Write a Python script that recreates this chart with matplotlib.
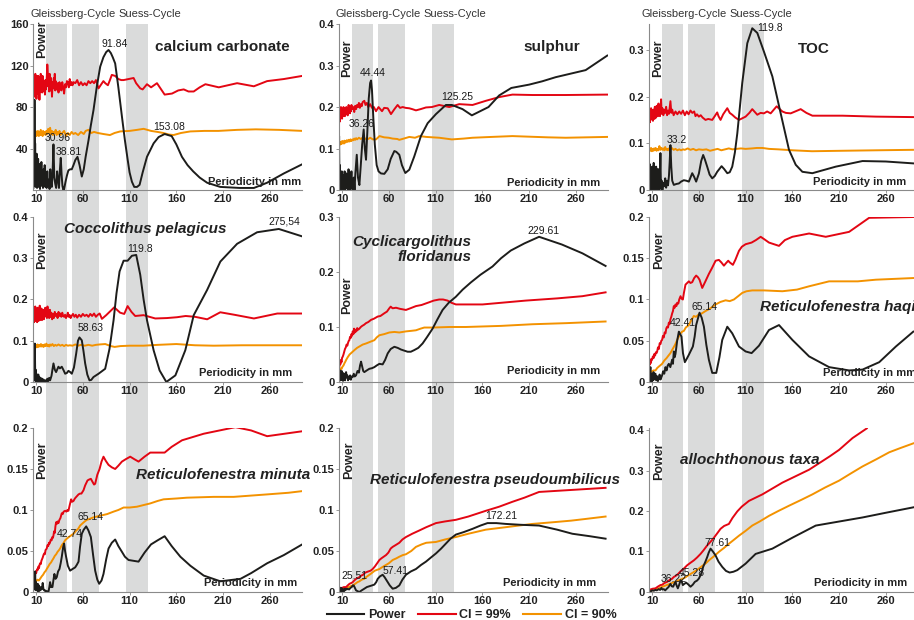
import numpy as np
import matplotlib
matplotlib.use('Agg')
import matplotlib.pyplot as plt
import matplotlib.transforms as mtransforms
from matplotlib.patches import Rectangle
from matplotlib.lines import Line2D

plt.rcParams['font.family'] = ['Liberation Sans', 'DejaVu Sans']

# ---- data: (periodicity in mm, power) ----
# calcium carbonate
cc_power = [(7.1,2),(7.6,30),(8.0,5),(8.3,87),(8.7,10),(9.0,45),(9.4,3),(9.8,28),(10.2,6),(10.6,35),(11.0,2),(11.4,20),(11.8,8),(12.2,30),(12.6,3),(13.0,18),(13.4,5),(13.8,25),(14.2,1),(14.7,22),(15.2,6),(15.7,27),(16.2,4),(16.8,15),(17.4,2),(18.0,20),(18.6,5),(19.2,24),(19.8,3),(20.5,12),(21.2,2),(22,18),(22.8,4),(23.6,10),(24.4,1),(25.2,20),(26,8),(26.8,3),(27.6,15),(28.6,44),(29.5,12),(30.5,6),(31.5,2),(32.5,18),(33.5,10),(34.5,2),(35.5,20),(36.4,31),(37.3,15),(38.2,4),(39.2,0),(40,1),(41.5,8),(43,14),(44.6,19),(46.5,20),(48.2,20),(50,24),(52,29),(54.3,32),(56.5,24),(58.9,13),(61,20),(63,32),(66.1,48),(68.5,62),(71.4,77),(75,100),(78.6,119),(82,128),(85,133),(87.5,135),(90,132),(92,128),(94.6,122),(98,99),(101.8,71),(105,48),(108,29),(110,17),(112.5,8),(115,3),(118,3),(120.7,5),(124,17),(128.6,32),(135.7,45),(141,51),(147.5,54),(155,52),(160,44),(166,32),(172,24),(178,18),(185,12),(193,7),(207,3),(228,2),(243,2),(257,7),(275,16),(295,25)]
cc_99 = [(7.1,95),(7.6,108),(8.0,90),(8.4,103),(8.8,97),(9.2,112),(9.6,92),(10,105),(10.4,88),(10.8,110),(11.2,98),(11.6,106),(12,93),(12.4,110),(12.8,96),(13.2,104),(13.6,87),(14,106),(14.5,95),(15,112),(15.5,98),(16,105),(16.5,94),(17,110),(17.5,99),(18,104),(18.5,95),(19,102),(19.5,92),(20,106),(20.5,97),(21,101),(21.5,110),(22,121),(22.5,114),(23,100),(23.5,108),(24,95),(24.5,112),(25,103),(25.5,96),(26,108),(26.5,101),(27,90),(27.5,99),(28,104),(28.5,98),(29,108),(29.5,100),(30,112),(30.5,96),(31,105),(32,97),(33,103),(34,94),(35,104),(36,99),(37,96),(38,104),(39,99),(40,93),(41,102),(42,99),(43,105),(44,104),(45,99),(46,107),(47,101),(48,104),(49,101),(50,104),(52,103),(54,106),(56,101),(58,104),(60,101),(62,103),(64,101),(66,105),(68,103),(70,105),(72,103),(74,106),(76.8,98),(79,101),(82,105),(84,103),(86.8,101),(89,106),(91,111),(94.6,110),(98,107),(101,106),(103.6,106),(109,107),(114.3,108),(117,103),(121.4,98),(124,97),(128.6,102),(133,99),(139.3,103),(147.5,92),(155.4,93),(162,96),(167.9,97),(173,95),(178.6,95),(185,99),(191.1,102),(205.4,99),(225,103),(242.9,100),(257.1,105),(275,107),(294.6,110)]
cc_90 = [(7.1,54),(7.6,57),(8,52),(8.5,56),(9,53),(9.5,57),(10,54),(10.5,52),(11,56),(11.5,53),(12,57),(12.5,54),(13,52),(13.5,56),(14,53),(14.5,55),(15,58),(15.5,53),(16,56),(16.5,54),(17,52),(17.5,57),(18,54),(19,56),(20,53),(21,57),(22,54),(23,59),(24,55),(25,60),(26,54),(27,57),(28,53),(29,56),(30,55),(31,58),(32,53),(33,56),(34,54),(35,57),(36,53),(38,55),(40,57),(42,52),(44,55),(46,53),(48,56),(50,54),(52,55),(55,53),(58,56),(61,54),(63,57),(66,58),(69,55),(72,56),(76,55),(82,54),(89,53),(94,55),(100,56.5),(110,57),(118,58),(125,59),(133,57),(140,56),(146,55),(152,53.5),(157,53),(165,55),(175,56.5),(190,57),(205,57),(225,58),(245,58.5),(270,58),(295,57)]

# sulphur
su_power = [(6.4,0.0),(6.8,0.13),(7.2,0.01),(7.7,0.06),(8.2,0.0),(8.7,0.035),(9.2,0.0),(9.7,0.045),(10.2,0.005),(10.7,0.03),(11.2,0.0),(11.7,0.035),(12.2,0.01),(12.7,0.045),(13.3,0.0),(13.9,0.025),(14.5,0.04),(15.1,0.005),(15.7,0.03),(16.3,0.0),(16.9,0.05),(17.5,0.01),(18.1,0.035),(18.7,0.0),(19.3,0.02),(20,0.045),(20.8,0.005),(21.6,0.0),(22.5,0.03),(23.3,0.0),(24.2,0.04),(25.7,0.085),(27,0.03),(28.5,0.012),(30,0.06),(31.5,0.11),(33.1,0.146),(34.3,0.1),(35.6,0.073),(37,0.14),(38.5,0.22),(40,0.258),(41,0.264),(42,0.24),(43.5,0.17),(45,0.11),(47,0.06),(49,0.045),(51.6,0.04),(55.2,0.039),(58.8,0.05),(62,0.075),(65.9,0.094),(68,0.092),(71.2,0.085),(74,0.06),(77.6,0.041),(81.9,0.049),(87.2,0.081),(94.3,0.13),(101.5,0.161),(110.4,0.183),(121,0.205),(127.4,0.205),(138.8,0.195),(148.8,0.18),(166.6,0.2),(178,0.228),(191,0.246),(210,0.254),(224,0.262),(238.5,0.272),(270.5,0.289),(293.6,0.324)]
su_99 = [(6.4,0.195),(6.8,0.17),(7.2,0.19),(7.6,0.165),(8.0,0.185),(8.4,0.175),(8.8,0.2),(9.2,0.18),(9.6,0.19),(10,0.172),(10.5,0.195),(11,0.178),(11.5,0.2),(12,0.183),(12.5,0.192),(13,0.178),(13.5,0.197),(14,0.182),(14.5,0.2),(15,0.185),(15.5,0.196),(16,0.18),(16.5,0.19),(17,0.205),(17.5,0.188),(18,0.198),(18.5,0.185),(19,0.2),(19.5,0.19),(20,0.205),(21,0.195),(22,0.2),(23,0.188),(24,0.203),(25,0.195),(26,0.205),(27,0.2),(28,0.21),(29,0.198),(30,0.207),(31,0.202),(32,0.212),(33.8,0.215),(35,0.205),(36.5,0.21),(38,0.2),(40,0.207),(42,0.198),(44,0.2),(46.3,0.19),(49,0.2),(52.7,0.19),(55,0.198),(58.8,0.197),(62.3,0.183),(66,0.195),(69.4,0.205),(72,0.198),(74.8,0.2),(78,0.198),(81.9,0.197),(85,0.195),(89,0.192),(94,0.195),(99.7,0.199),(106,0.2),(113.9,0.205),(124.6,0.2),(135.3,0.207),(149.5,0.205),(163.7,0.215),(178,0.224),(192.2,0.23),(213.6,0.229),(249.1,0.229),(293.6,0.23)]
su_90 = [(6.4,0.112),(7,0.108),(7.5,0.115),(8,0.11),(8.5,0.116),(9,0.111),(9.5,0.117),(10,0.112),(10.5,0.118),(11,0.113),(11.5,0.116),(12,0.112),(12.5,0.119),(13,0.114),(13.5,0.118),(14,0.115),(15,0.12),(16,0.116),(17,0.121),(18,0.117),(19,0.122),(20,0.118),(21,0.122),(22,0.12),(23,0.124),(24,0.121),(25,0.125),(26,0.122),(28,0.126),(30,0.123),(32,0.126),(34,0.122),(36,0.125),(38,0.123),(40,0.126),(43,0.122),(46.3,0.122),(50,0.13),(55,0.127),(60,0.126),(64,0.124),(69,0.123),(71.2,0.121),(76,0.124),(81.9,0.128),(88,0.126),(92.5,0.13),(100,0.128),(113.9,0.126),(127.4,0.122),(140,0.124),(149.5,0.126),(170,0.128),(192.2,0.13),(230,0.127),(249.1,0.126),(293.6,0.128)]

# TOC
toc_power = [(5.7,0.0),(6.1,0.065),(6.5,0.005),(6.9,0.04),(7.3,0.0),(7.7,0.055),(8.1,0.01),(8.5,0.045),(8.9,0.0),(9.3,0.03),(9.7,0.005),(10.1,0.05),(10.5,0.0),(10.9,0.035),(11.3,0.01),(11.7,0.058),(12.1,0.0),(12.5,0.04),(12.9,0.005),(13.3,0.03),(13.8,0.0),(14.3,0.05),(14.8,0.008),(15.3,0.025),(15.8,0.0),(16.3,0.045),(16.8,0.01),(17.3,0.02),(17.8,0.0),(18.4,0.035),(18.9,0.079),(19.5,0.005),(20.2,0.02),(21,0.0),(22,0.015),(23,0.008),(24,0.025),(25,0.005),(26,0.02),(27,0.01),(28,0.03),(28.8,0.06),(29.6,0.096),(30.5,0.05),(31.5,0.02),(33.2,0.011),(36,0.013),(38.6,0.014),(41,0.018),(43.9,0.021),(46.5,0.02),(49.3,0.018),(52.9,0.036),(55,0.028),(57.1,0.018),(60,0.035),(62.5,0.062),(64.6,0.075),(66.5,0.065),(68.9,0.05),(71.5,0.033),(74.3,0.025),(77,0.03),(79.6,0.039),(84.3,0.051),(87,0.045),(90.4,0.036),(93,0.038),(95.7,0.05),(98.5,0.08),(101.1,0.121),(106.4,0.229),(111.8,0.314),(117.1,0.346),(122.5,0.336),(129.6,0.296),(138.6,0.243),(147.5,0.164),(156.4,0.086),(163.6,0.054),(170.7,0.039),(181.4,0.036),(206.4,0.05),(235,0.062),(260,0.061),(289.3,0.057)]
toc_99 = [(5.7,0.193),(6.1,0.16),(6.5,0.175),(6.9,0.148),(7.3,0.17),(7.7,0.145),(8.1,0.168),(8.5,0.152),(8.9,0.175),(9.3,0.155),(9.7,0.17),(10.1,0.15),(10.5,0.165),(10.9,0.148),(11.3,0.172),(11.7,0.155),(12.1,0.168),(12.5,0.152),(12.9,0.178),(13.3,0.158),(13.8,0.17),(14.3,0.155),(14.8,0.18),(15.3,0.16),(15.8,0.175),(16.3,0.158),(16.8,0.185),(17.3,0.162),(17.8,0.17),(18.4,0.158),(19.0,0.175),(19.6,0.194),(20.2,0.163),(21,0.175),(22,0.16),(23,0.172),(24,0.165),(25,0.178),(26,0.16),(27,0.17),(28,0.163),(29.6,0.19),(30.5,0.165),(31.5,0.172),(33,0.16),(35,0.168),(37,0.162),(39,0.168),(41,0.163),(43,0.17),(45,0.16),(47,0.168),(49,0.162),(51,0.17),(53,0.165),(55,0.168),(56.4,0.158),(58,0.162),(60,0.157),(62,0.16),(64,0.155),(67.1,0.15),(70,0.152),(74.3,0.15),(77,0.158),(79.6,0.166),(81,0.158),(83.2,0.15),(86,0.162),(90.4,0.175),(93,0.165),(95.7,0.161),(99,0.155),(102.9,0.15),(106,0.153),(110,0.157),(114,0.165),(117.1,0.173),(122.5,0.161),(126,0.165),(129.6,0.164),(133,0.168),(136.8,0.164),(143.2,0.179),(149.3,0.168),(153,0.165),(158.2,0.164),(163,0.168),(168.9,0.173),(175,0.165),(181.4,0.159),(213.6,0.159),(249.3,0.157),(289.3,0.156)]
toc_90 = [(5.7,0.087),(6.5,0.082),(7.3,0.089),(8.1,0.084),(8.9,0.09),(9.7,0.083),(10.5,0.088),(11.3,0.084),(12.1,0.089),(12.9,0.085),(13.8,0.09),(14.8,0.084),(15.8,0.088),(16.8,0.085),(17.8,0.094),(18.9,0.086),(20,0.09),(21,0.086),(22,0.089),(23,0.085),(24,0.092),(25,0.086),(26,0.088),(27,0.085),(28,0.089),(29.6,0.087),(31,0.09),(33,0.086),(35,0.088),(37,0.085),(39,0.087),(41,0.085),(43,0.087),(45,0.086),(48,0.089),(51,0.086),(54,0.088),(57,0.085),(60,0.087),(64,0.086),(68,0.087),(72,0.084),(76,0.086),(80,0.088),(84,0.085),(88,0.087),(92,0.089),(96,0.087),(100,0.088),(105,0.089),(110,0.088),(117,0.089),(122,0.09),(128,0.09),(135,0.088),(145,0.087),(160,0.085),(181,0.083),(214,0.084),(250,0.085),(289,0.086)]

# Coccolithus pelagicus
cp_power = [(7.1,0.0),(7.5,0.05),(7.9,0.005),(8.3,0.02),(8.7,0.093),(9.1,0.01),(9.5,0.03),(9.9,0.0),(10.3,0.02),(10.8,0.005),(11.3,0.015),(11.8,0.0),(12.4,0.018),(13,0.004),(13.6,0.012),(14.2,0.0),(14.9,0.01),(15.6,0.002),(16.4,0.008),(17.2,0.0),(18,0.006),(19,0.0),(20,0.004),(21,0.0),(22,0.008),(23,0.002),(24,0.01),(25,0.004),(26.5,0.015),(27.5,0.03),(28.6,0.045),(30,0.03),(31.4,0.024),(33.9,0.037),(35.5,0.033),(37.5,0.037),(39.5,0.028),(41.1,0.02),(43,0.022),(44.6,0.027),(46.5,0.024),(48.2,0.02),(50.5,0.035),(52.9,0.069),(54.8,0.1),(56.4,0.108),(58.9,0.101),(60.7,0.075),(62.5,0.045),(64.8,0.018),(67.1,0.004),(69,0.005),(71.4,0.012),(76.8,0.02),(83.9,0.032),(88.5,0.08),(92.9,0.15),(96,0.215),(99.3,0.268),(103.6,0.294),(107.9,0.294),(112.5,0.306),(117.1,0.308),(121.4,0.26),(125,0.2),(128.6,0.15),(135.7,0.077),(142.1,0.028),(149.3,0.0),(159,0.016),(169.6,0.077),(178.6,0.162),(192.9,0.223),(207.1,0.292),(225,0.335),(246.4,0.363),(269.6,0.371),(294.6,0.353)]
cp_99 = [(7.1,0.15),(7.5,0.178),(7.9,0.145),(8.3,0.17),(8.7,0.155),(9.1,0.183),(9.5,0.148),(9.9,0.172),(10.3,0.15),(10.7,0.168),(11.1,0.145),(11.5,0.18),(11.9,0.152),(12.3,0.175),(12.7,0.148),(13.1,0.17),(13.5,0.155),(13.9,0.185),(14.3,0.15),(14.8,0.17),(15.3,0.155),(15.8,0.178),(16.3,0.15),(16.8,0.168),(17.3,0.158),(17.8,0.175),(18.3,0.152),(18.8,0.17),(19.3,0.158),(19.8,0.18),(20.4,0.16),(21,0.178),(21.6,0.155),(22.2,0.183),(22.8,0.16),(23.4,0.17),(24,0.155),(24.8,0.175),(25.6,0.158),(26.4,0.168),(27.2,0.152),(28,0.165),(29,0.155),(30,0.17),(31,0.16),(32,0.165),(33,0.155),(34,0.17),(35,0.16),(36,0.166),(37,0.158),(38,0.168),(39,0.16),(40,0.158),(41,0.163),(42,0.155),(43,0.16),(44,0.168),(45,0.158),(46,0.162),(47,0.155),(48,0.16),(49.5,0.165),(51,0.158),(52.5,0.163),(54,0.156),(56,0.163),(58,0.158),(60,0.165),(62,0.16),(64,0.163),(66,0.158),(68,0.165),(70,0.16),(72,0.166),(74,0.158),(76,0.163),(78,0.166),(80.4,0.153),(85,0.162),(93.6,0.181),(99.9,0.168),(104.3,0.165),(107.9,0.184),(112,0.17),(116,0.16),(125,0.162),(137.5,0.154),(150,0.155),(160.7,0.157),(170,0.16),(180,0.158),(193,0.152),(207,0.169),(222,0.163),(243,0.154),(268,0.166),(294.6,0.166)]
cp_90 = [(7.1,0.085),(8,0.09),(8.9,0.083),(9.8,0.09),(10.7,0.084),(11.6,0.091),(12.5,0.085),(13.4,0.09),(14.3,0.086),(15.2,0.092),(16.1,0.086),(17,0.09),(18,0.085),(19,0.091),(20,0.087),(21,0.093),(22,0.087),(23,0.09),(24,0.086),(25,0.091),(26,0.088),(27.5,0.092),(29,0.087),(30.5,0.09),(32,0.088),(34,0.091),(36,0.088),(38,0.09),(40,0.087),(42,0.09),(44,0.088),(46,0.089),(49,0.088),(52,0.091),(55,0.088),(58,0.09),(62,0.088),(66,0.09),(70,0.088),(74,0.09),(78,0.091),(84,0.092),(90,0.087),(94,0.085),(100,0.087),(110,0.088),(125,0.088),(140,0.09),(160,0.092),(180,0.089),(200,0.088),(230,0.089),(260,0.089),(294.6,0.089)]

# Cyclicargolithus floridanus
cf_power = [(6.4,0.027),(6.8,0.005),(7.2,0.022),(7.6,0.008),(8,0.018),(8.4,0.003),(8.8,0.015),(9.2,0.005),(9.6,0.02),(10,0.004),(10.5,0.012),(11,0.002),(11.5,0.016),(12,0.006),(12.6,0.01),(13.2,0.003),(13.8,0.014),(14.3,0.018),(15,0.008),(15.7,0.012),(16.4,0.003),(17.1,0.009),(17.8,0.006),(18.6,0.012),(19.4,0.004),(20.3,0.01),(21.4,0.009),(22.5,0.015),(23.5,0.01),(24.9,0.012),(26.5,0.02),(28,0.017),(29.2,0.03),(30.3,0.037),(31.5,0.028),(32.6,0.02),(33.8,0.018),(35.5,0.02),(37.3,0.022),(39.2,0.024),(41.8,0.025),(44.5,0.027),(47,0.03),(49.9,0.033),(53.4,0.032),(56,0.04),(58.8,0.052),(62,0.06),(65.9,0.064),(69.5,0.062),(73,0.059),(76.5,0.057),(80.1,0.055),(83.5,0.055),(87.2,0.058),(91.5,0.062),(96.1,0.07),(101,0.082),(106.8,0.097),(112,0.114),(117.5,0.131),(124,0.144),(131.7,0.155),(139,0.168),(147.7,0.181),(158,0.195),(170.9,0.21),(180,0.225),(190.4,0.239),(205,0.252),(220.7,0.264),(245,0.25),(267,0.234),(291.8,0.211)]
cf_99 = [(6.4,0.033),(7,0.028),(7.6,0.036),(8.2,0.032),(8.8,0.04),(9.4,0.036),(10,0.044),(10.7,0.046),(11.5,0.05),(12.3,0.055),(13.1,0.06),(14,0.063),(14.8,0.068),(15.6,0.066),(16.5,0.072),(17.2,0.075),(17.8,0.076),(18.5,0.082),(19.2,0.08),(20,0.087),(20.7,0.084),(21.4,0.092),(22.1,0.087),(22.8,0.097),(23.6,0.09),(24.4,0.095),(25.3,0.092),(26.2,0.098),(27.2,0.095),(28.5,0.097),(30,0.1),(31.5,0.102),(33.5,0.104),(35.6,0.107),(38,0.109),(41,0.113),(44,0.115),(48.1,0.119),(51,0.12),(55.2,0.125),(58,0.128),(60.5,0.134),(62,0.137),(64,0.134),(67.7,0.135),(72,0.133),(78.3,0.131),(83,0.134),(89,0.138),(95,0.14),(103.2,0.145),(108,0.148),(113.9,0.15),(118,0.15),(122.8,0.148),(127,0.144),(131.7,0.141),(160.2,0.141),(206.4,0.148),(240,0.152),(267,0.156),(291.8,0.163)]
cf_90 = [(6.4,0.021),(7.5,0.02),(8.5,0.025),(9.5,0.024),(10.5,0.028),(11.5,0.03),(12.5,0.034),(13.5,0.037),(14.3,0.04),(16,0.045),(18,0.05),(20,0.053),(23.2,0.058),(26,0.062),(29,0.065),(32,0.068),(35.6,0.07),(40,0.073),(44.5,0.076),(47,0.081),(49.9,0.085),(55,0.087),(60.5,0.09),(66,0.091),(71.2,0.09),(78.3,0.092),(84,0.093),(89,0.094),(94,0.097),(97.9,0.099),(106.8,0.099),(125,0.1),(142.4,0.1),(180,0.102),(213.6,0.105),(250,0.107),(291.8,0.11)]

# Reticulofenestra haqi
rh_power = [(5.7,0.005),(6.1,0.022),(6.5,0.004),(6.9,0.015),(7.3,0.0),(7.7,0.012),(8.2,0.018),(8.7,0.003),(9.2,0.01),(9.7,0.0),(10.3,0.008),(10.9,0.002),(11.5,0.012),(12.1,0.003),(12.8,0.009),(13.6,0.01),(14.4,0.002),(15.3,0.007),(16.2,0.001),(17.1,0.004),(18,0.009),(19,0.003),(20,0.006),(20.7,0.008),(21.8,0.013),(23,0.01),(24.3,0.018),(25.5,0.014),(26.7,0.02),(27.9,0.022),(29.5,0.018),(31.4,0.027),(32.3,0.022),(33.2,0.037),(34.1,0.03),(35,0.034),(36.8,0.05),(38.6,0.061),(40,0.058),(41.4,0.055),(43,0.035),(45,0.024),(47,0.028),(49.3,0.033),(53.6,0.043),(55.5,0.055),(57.1,0.069),(60.7,0.084),(63,0.078),(65.4,0.067),(68,0.045),(70.7,0.027),(74.3,0.011),(78.6,0.011),(82,0.03),(85,0.051),(90.4,0.067),(95.7,0.059),(102.9,0.043),(110,0.037),(116.4,0.035),(124.3,0.044),(135,0.063),(145.7,0.069),(160,0.051),(177.9,0.031),(199.3,0.018),(220.7,0.014),(235,0.015),(252.9,0.024),(270.7,0.043),(289.3,0.061)]
rh_99 = [(5.7,0.02),(6.3,0.018),(6.9,0.024),(7.5,0.021),(8.1,0.027),(8.7,0.023),(9.3,0.028),(10,0.027),(10.8,0.031),(11.6,0.029),(12.4,0.034),(13.2,0.032),(14,0.036),(14.7,0.035),(15.4,0.037),(16.3,0.042),(17.2,0.04),(18.1,0.047),(19,0.046),(19.8,0.05),(20.7,0.051),(21.6,0.056),(22.5,0.054),(23.4,0.06),(24.3,0.059),(25.2,0.065),(26.1,0.067),(27,0.066),(27.9,0.072),(28.7,0.07),(29.6,0.076),(30.5,0.079),(31.4,0.083),(32.3,0.086),(33.2,0.092),(34.1,0.09),(35,0.094),(36,0.092),(36.8,0.096),(38,0.095),(39,0.1),(40.4,0.104),(41.5,0.101),(42.9,0.1),(44,0.108),(45.7,0.118),(47.5,0.12),(49.3,0.122),(51,0.12),(52.9,0.121),(55,0.126),(57.1,0.129),(59,0.127),(60.7,0.124),(63.6,0.114),(67,0.122),(70.7,0.131),(74,0.138),(77.9,0.147),(81.4,0.148),(84,0.145),(86.8,0.141),(89,0.144),(91.4,0.147),(93,0.145),(96.4,0.142),(99,0.148),(102.9,0.159),(106,0.164),(110,0.167),(116.4,0.169),(121,0.172),(126.1,0.176),(130,0.173),(135,0.169),(145.7,0.165),(152,0.172),(160,0.176),(177.9,0.18),(195.7,0.176),(220.7,0.182),(242.1,0.199),(289.3,0.2)]
rh_90 = [(5.7,0.01),(7,0.011),(8.5,0.012),(10,0.013),(11.5,0.014),(13.6,0.014),(15.5,0.017),(17.5,0.019),(20.7,0.022),(23,0.026),(25.5,0.029),(27.5,0.032),(29.6,0.035),(32,0.04),(34.5,0.045),(36.8,0.051),(39,0.056),(40.5,0.059),(42.1,0.061),(44,0.062),(46,0.066),(49.3,0.069),(52,0.075),(54.6,0.08),(57,0.079),(60,0.082),(63,0.083),(67.1,0.086),(72,0.089),(77.9,0.094),(83,0.097),(88.6,0.099),(93,0.098),(97.5,0.1),(102,0.104),(106.4,0.108),(111,0.11),(117.1,0.111),(130,0.111),(149.3,0.11),(165,0.112),(177.9,0.116),(199.3,0.122),(230,0.122),(249.3,0.124),(289.3,0.126)]

# Reticulofenestra minuta
rm_power = [(7.1,0.008),(7.5,0.02),(7.9,0.004),(8.2,0.014),(8.6,0.003),(9,0.025),(9.4,0.006),(9.8,0.012),(10.2,0.002),(10.7,0.01),(11.2,0.004),(11.8,0.01),(12.4,0.0),(13,0.008),(13.6,0.002),(14.3,0.002),(15,0.006),(15.8,0.003),(16.5,0.006),(17.1,0.011),(17.8,0.004),(18.6,0.002),(19.6,0.002),(20.5,0.0),(21.5,0.001),(22.3,0.0),(23.2,0.0),(24.2,0.006),(25,0.012),(26,0.006),(27.5,0.006),(28.5,0.014),(29.6,0.022),(30.8,0.016),(32.1,0.018),(33.5,0.025),(35,0.028),(36.3,0.035),(37.5,0.043),(39,0.055),(40,0.059),(41,0.05),(42.1,0.043),(44,0.032),(46.4,0.026),(49,0.028),(51.8,0.03),(53.5,0.033),(55.4,0.037),(57,0.055),(58.9,0.071),(61,0.076),(63.6,0.08),(66,0.075),(68.6,0.067),(71,0.045),(73.2,0.026),(75.5,0.015),(77.5,0.01),(80,0.014),(82.1,0.022),(85,0.04),(87.5,0.053),(91,0.06),(94.6,0.064),(98,0.056),(101.8,0.049),(105,0.043),(108.9,0.039),(119.6,0.037),(126,0.048),(132.9,0.058),(140,0.063),(147.5,0.068),(155,0.056),(164.3,0.043),(175,0.032),(189.3,0.02),(207.1,0.013),(228.6,0.016),(240,0.023),(257.1,0.035),(275,0.045),(294.6,0.058)]
rm_99 = [(7.1,0.02),(7.7,0.018),(8.3,0.023),(8.9,0.021),(9.5,0.025),(10.1,0.023),(10.7,0.026),(11.3,0.028),(11.9,0.027),(12.5,0.031),(13.1,0.029),(13.7,0.033),(14.3,0.035),(15,0.034),(15.7,0.038),(16.4,0.04),(17.1,0.042),(17.9,0.045),(18.7,0.047),(19.4,0.046),(20.1,0.051),(20.8,0.052),(21.4,0.053),(22.2,0.057),(23,0.056),(23.8,0.06),(24.4,0.059),(25,0.061),(25.8,0.064),(26.6,0.063),(27.4,0.067),(28,0.066),(28.6,0.069),(29.3,0.074),(30,0.072),(30.7,0.08),(31.4,0.085),(32.2,0.083),(33,0.086),(33.9,0.084),(35,0.088),(36,0.09),(37.5,0.096),(38.5,0.095),(39.5,0.098),(41.1,0.099),(42.5,0.098),(43.5,0.1),(44.6,0.099),(46,0.106),(47.5,0.113),(48.5,0.11),(50,0.111),(51.5,0.114),(53,0.116),(55.4,0.119),(57,0.12),(58.5,0.12),(60.7,0.124),(62.5,0.13),(65,0.136),(66.5,0.137),(68.6,0.138),(70.5,0.134),(72,0.131),(73.2,0.132),(75.5,0.143),(77.9,0.15),(80,0.159),(82.1,0.165),(84.5,0.16),(87.5,0.155),(91,0.152),(94.6,0.15),(98,0.154),(101.8,0.159),(106,0.162),(110.7,0.165),(115,0.162),(119.6,0.159),(126,0.165),(132.1,0.17),(140,0.17),(147.5,0.17),(155,0.177),(166.1,0.185),(189.3,0.193),(223.2,0.201),(240,0.197),(257.1,0.19),(294.6,0.196)]
rm_90 = [(7.1,0.011),(8.5,0.012),(10,0.013),(11.5,0.015),(13,0.014),(14.3,0.016),(16,0.019),(17.5,0.021),(19,0.024),(20.5,0.026),(21.4,0.028),(23,0.031),(24.5,0.034),(26,0.036),(27.5,0.039),(28.6,0.041),(30,0.044),(31.5,0.046),(33,0.049),(34.5,0.051),(35.7,0.053),(37.5,0.057),(39.5,0.06),(41,0.063),(42.9,0.065),(45,0.067),(47.5,0.069),(50,0.071),(53,0.075),(55,0.077),(57.1,0.081),(60,0.084),(62,0.086),(64.3,0.088),(67,0.089),(71.4,0.091),(78.6,0.093),(86,0.095),(92.9,0.098),(98,0.1),(103.6,0.103),(110,0.103),(117.9,0.104),(125,0.106),(132.1,0.108),(140,0.111),(146.4,0.113),(160,0.114),(171.4,0.115),(200,0.116),(221.4,0.116),(257.1,0.119),(280,0.121),(294.6,0.123)]

# Reticulofenestra pseudoumbilicus
rp_power = [(6.4,0.002),(7,0.006),(7.6,0.001),(8.2,0.004),(8.8,0.0),(9.4,0.005),(10,0.001),(10.7,0.003),(11.5,0.0),(12.3,0.004),(13.2,0.002),(14,0.004),(15,0.003),(16,0.004),(17.5,0.003),(19,0.005),(20.3,0.006),(21.4,0.008),(22.5,0.008),(23.7,0.005),(24.9,0.002),(26.5,0.001),(28.5,0.0),(31,0.002),(33.8,0.004),(36.5,0.006),(39.2,0.007),(42,0.008),(44.5,0.009),(46.5,0.012),(48.1,0.016),(50.5,0.019),(53.4,0.021),(55.5,0.018),(57.7,0.014),(61,0.008),(64.1,0.004),(67.5,0.005),(71.2,0.008),(74.5,0.015),(78.3,0.021),(83.5,0.025),(89,0.028),(94.5,0.033),(99.7,0.037),(105,0.042),(110.4,0.047),(116,0.053),(121,0.059),(126,0.065),(131.7,0.07),(140,0.073),(149.5,0.077),(158,0.081),(165.5,0.084),(175,0.084),(185.1,0.083),(200,0.082),(220.7,0.081),(240,0.076),(256.3,0.071),(275,0.068),(291.8,0.065)]
rp_99 = [(6.4,0.004),(8,0.005),(10,0.005),(12,0.006),(14.3,0.006),(16,0.008),(18,0.01),(20,0.011),(21.4,0.012),(23,0.014),(25,0.016),(26.5,0.017),(28.5,0.018),(30.5,0.02),(32.5,0.021),(34,0.023),(35.6,0.024),(38,0.025),(40.5,0.026),(42.7,0.028),(45,0.031),(47.5,0.035),(49.9,0.039),(52,0.041),(54.5,0.043),(57,0.045),(59.5,0.048),(62,0.053),(64.1,0.055),(67,0.057),(71.2,0.06),(74.5,0.064),(78.3,0.067),(85,0.071),(92.6,0.075),(100,0.079),(110.4,0.084),(120,0.086),(131.7,0.088),(145,0.092),(163.7,0.099),(178,0.104),(192.2,0.11),(205,0.115),(220.7,0.122),(249.1,0.124),(291.8,0.127)]
rp_90 = [(6.4,0.002),(8,0.002),(10,0.003),(12,0.004),(14.3,0.005),(17,0.006),(19,0.007),(21.4,0.008),(24,0.01),(26.5,0.012),(28.5,0.013),(31,0.015),(33.5,0.016),(35.6,0.018),(38,0.02),(40.5,0.022),(42.7,0.024),(45,0.026),(49.9,0.028),(54,0.031),(57,0.033),(60,0.035),(64.1,0.039),(68,0.041),(71.2,0.043),(75,0.045),(78.3,0.046),(84,0.05),(89,0.055),(95,0.058),(100,0.06),(110.4,0.061),(120,0.064),(131.7,0.067),(145,0.071),(163.7,0.076),(185,0.079),(199,0.081),(213.6,0.083),(235,0.085),(255,0.087),(270,0.089),(291.8,0.092)]

# allochthonous taxa
at_power = [(5.7,0.001),(7,0.003),(8.5,0.001),(10,0.004),(11.8,0.003),(13.5,0.005),(15,0.004),(17.1,0.007),(18.5,0.005),(20,0.01),(21,0.006),(22.5,0.007),(24,0.004),(26.1,0.009),(27.5,0.012),(29.6,0.02),(31,0.014),(32.5,0.013),(33.8,0.02),(35,0.025),(36.2,0.016),(37.5,0.009),(39,0.018),(40.4,0.029),(41.5,0.027),(42.9,0.017),(44.5,0.02),(46.4,0.023),(48.5,0.019),(51.1,0.013),(53.5,0.018),(55.7,0.025),(58,0.028),(60,0.033),(62.5,0.045),(64.6,0.062),(67,0.075),(68.9,0.086),(70.5,0.097),(72.5,0.107),(75,0.1),(77.9,0.09),(81,0.075),(85,0.062),(89,0.052),(92.9,0.048),(97,0.05),(101.1,0.054),(110,0.07),(120.7,0.094),(138.6,0.107),(160,0.134),(185,0.164),(210,0.174),(235,0.184),(260.7,0.196),(289.3,0.209)]
at_99 = [(5.7,0.005),(8,0.006),(10.5,0.008),(13.6,0.009),(16,0.013),(18.9,0.017),(21,0.018),(23,0.022),(26.1,0.025),(29,0.03),(31,0.032),(33.2,0.037),(36,0.041),(38,0.045),(40.4,0.051),(42,0.054),(44,0.058),(47.5,0.066),(51,0.072),(54.6,0.078),(58,0.085),(61.8,0.094),(65,0.103),(68.9,0.115),(72.5,0.124),(76.1,0.134),(80,0.146),(83.2,0.156),(87,0.163),(92.1,0.168),(96,0.183),(101.1,0.199),(106,0.211),(113.6,0.225),(127.9,0.241),(149.3,0.27),(177.9,0.302),(200,0.335),(210,0.351),(224.3,0.38),(239.6,0.404)]
at_90 = [(5.7,0.003),(10,0.004),(13.5,0.006),(17.1,0.009),(21,0.013),(24.5,0.016),(27.9,0.019),(31,0.022),(34.5,0.025),(38.6,0.029),(42,0.032),(45.5,0.036),(49.3,0.042),(53,0.047),(56.5,0.052),(60,0.058),(64,0.065),(67.5,0.071),(70.7,0.078),(76,0.088),(81.4,0.099),(87,0.109),(92.1,0.119),(97,0.128),(102.9,0.139),(110,0.151),(117.1,0.164),(125,0.174),(135,0.188),(145,0.2),(156.4,0.213),(170,0.228),(181.4,0.241),(195,0.258),(210,0.275),(222,0.292),(235,0.31),(250,0.328),(263.6,0.345),(275,0.355),(289.3,0.367)]

# cycle bands (mm) and x ticks
gleissberg_bands = [(20.3, 43.0), (48.0, 77.0)]
suess_band = (106.5, 129.5)
x_ticks = [10, 60, 110, 160, 210, 260]

# ---- layout ----
BLACK = '#1d1d1b'
RED = '#e30613'
ORANGE = '#f39200'
BAND = '#dadbdb'
TXT = '#222222'

fig = plt.figure(figsize=(9.14, 6.2), dpi=100)
col_left = [0.0364, 0.3712, 0.7104]
col_w = 0.2936
row_bottom = [0.6935, 0.3839, 0.0452]
row_h = [0.2677, 0.2661, 0.2645]

panels = [
    dict(data=(cc_power, cc_99, cc_90), ylim=160, yt=[40, 80, 120, 160], ytl=['40', '80', '120', '160'],
         title='calcium carbonate', tpos=(0.454, 0.861), tstyle='normal', tha='left',
         peaks=[('91.84', 94.3, 141), ('30.96', 32.9, 50), ('38.81', 44.6, 37), ('153.08', 151.8, 61)],
         power=(0.032, 1.02), per=(0.998, 0.048)),
    dict(data=(su_power, su_99, su_90), ylim=0.4, yt=[0, 0.1, 0.2, 0.3, 0.4], ytl=['0', '0.1', '0.2', '0.3', '0.4'],
         title='sulphur', tpos=(0.685, 0.861), tstyle='normal', tha='left',
         peaks=[('44.44', 42.7, 0.283), ('36.26', 31.4, 0.159), ('125.25', 133.5, 0.224)],
         power=(0.029, 0.905), per=(0.972, 0.044)),
    dict(data=(toc_power, toc_99, toc_90), ylim=0.355, yt=[0, 0.1, 0.2, 0.3], ytl=['0', '0.1', '0.2', '0.3'],
         title='TOC', tpos=(0.554, 0.849), tstyle='normal', tha='left',
         peaks=[('119.8', 135.7, 0.346), ('33.2', 36.8, 0.107)],
         power=(0.034, 0.905), per=(0.959, 0.05)),
    dict(data=(cp_power, cp_99, cp_90), ylim=0.4, yt=[0, 0.1, 0.2, 0.3, 0.4], ytl=['0', '0.1', '0.2', '0.3', '0.4'],
         title='Coccolithus pelagicus', tpos=(0.114, 0.927), tstyle='italic', tha='left',
         peaks=[('119.8', 120.7, 0.322), ('58.63', 68.6, 0.132), ('275,54', 275, 0.39)],
         power=(0.034, 0.911), per=(0.964, 0.055)),
    dict(data=(cf_power, cf_99, cf_90), ylim=0.3, yt=[0, 0.1, 0.2, 0.3], ytl=['0', '0.1', '0.2', '0.3'],
         title='Cyclicargolithus\nfloridanus', tpos=(0.491, 0.803), tstyle='italic', tha='right',
         peaks=[('229.61', 225, 0.274)],
         power=(0.029, 0.642), per=(0.972, 0.068)),
    dict(data=(rh_power, rh_99, rh_90), ylim=0.2, yt=[0, 0.05, 0.1, 0.15, 0.2], ytl=['0', '0.05', '0.1', '0.15', '0.2'],
         title='Reticulofenestra haqi', tpos=(0.413, 0.455), tstyle='italic', tha='left',
         peaks=[('65.14', 66.4, 0.091), ('42.41', 42.9, 0.071)],
         power=(0.036, 0.911), per=(0.647, 0.056), per_ha='left'),
    dict(data=(rm_power, rm_99, rm_90), ylim=0.2, yt=[0, 0.05, 0.1, 0.15, 0.2], ytl=['0', '0.05', '0.1', '0.15', '0.2'],
         title='Reticulofenestra minuta', tpos=(0.383, 0.713), tstyle='italic', tha='left',
         peaks=[('65.14', 68.6, 0.092), ('42.74', 45.7, 0.071)],
         power=(0.034, 0.916), per=(0.985, 0.057)),
    dict(data=(rp_power, rp_99, rp_90), ylim=0.2, yt=[0, 0.05, 0.1, 0.15, 0.2], ytl=['0', '0.05', '0.1', '0.15', '0.2'],
         title='Reticulofenestra pseudoumbilicus', tpos=(0.114, 0.683), tstyle='italic', tha='left',
         peaks=[('172.21', 179.8, 0.093), ('25.51', 23.2, 0.02), ('57.41', 67.7, 0.026)],
         power=(0.036, 0.92), per=(0.959, 0.057)),
    dict(data=(at_power, at_99, at_90), ylim=0.405, yt=[0, 0.1, 0.2, 0.3, 0.4], ytl=['0', '0.1', '0.2', '0.3', '0.4'],
         title='allochthonous taxa', tpos=(0.114, 0.805), tstyle='italic', tha='left',
         peaks=[('77.61', 79.6, 0.121), ('45.28', 52.9, 0.048), ('36.22', 33.2, 0.032)],
         power=(0.036, 0.91), per=(0.963, 0.057)),
]

axes = []
for i, p in enumerate(panels):
    r, c = divmod(i, 3)
    ax = fig.add_axes([col_left[c], row_bottom[r], col_w, row_h[r]])
    ax.set_facecolor('none')
    axes.append(ax)
    power, ci99, ci90 = (np.array(s).T for s in p['data'])
    ax.plot(ci90[0], ci90[1], color=ORANGE, lw=1.4, zorder=2)
    ax.plot(ci99[0], ci99[1], color=RED, lw=1.4, zorder=2.2)
    ax.plot(power[0], power[1], color=BLACK, lw=1.4, zorder=2.5)
    ax.set_xlim(7, 294)
    ax.set_ylim(0, p['ylim'])
    ax.set_xticks(x_ticks, [str(t) for t in x_ticks], fontweight='bold')
    ax.set_yticks(p['yt'], p['ytl'], fontweight='bold')
    ax.tick_params(axis='both', labelsize=8, length=2, width=0.6, color='#888888', labelcolor=TXT)
    ax.tick_params(axis='x', pad=0.8)
    ax.tick_params(axis='y', pad=1.5)
    for s in ('top', 'right'):
        ax.spines[s].set_visible(False)
    for s in ('left', 'bottom'):
        ax.spines[s].set_color('#8a8a8a')
        ax.spines[s].set_linewidth(0.8)

    ax.text(p['tpos'][0], p['tpos'][1], p['title'], transform=ax.transAxes, ha=p['tha'], va='center',
            multialignment=p['tha'], fontsize=11, fontweight='bold', fontstyle=p['tstyle'],
            color=TXT, linespacing=1.05, zorder=4)
    for lbl, px, py in p['peaks']:
        ax.text(px, py, lbl, ha='center', va='center', fontsize=7.5, color='#1a1a1a', zorder=4)
    ax.text(p['power'][0], p['power'][1], 'Power', transform=ax.transAxes, rotation=90, ha='center',
            va='top', fontsize=9, fontweight='bold', color=TXT, zorder=4)
    ax.text(p['per'][0], p['per'][1], 'Periodicity in mm', transform=ax.transAxes,
            ha=p.get('per_ha', 'right'), va='center', fontsize=8, fontweight='bold', color=TXT, zorder=4)

# grey cycle bands spanning all three rows of each column, plus header labels
band_top = 1 - 24 / 620
band_bot = 1 - 593 / 620
header_pos = [(-0.012, 0.316), (-0.013, 0.313), (-0.028, 0.30)]
for c in range(3):
    ax = axes[c]
    tr = mtransforms.blended_transform_factory(ax.transData, fig.transFigure)
    for x0, x1 in gleissberg_bands + [suess_band]:
        fig.add_artist(Rectangle((x0, band_bot), x1 - x0, band_top - band_bot, transform=tr,
                                 facecolor=BAND, edgecolor='none', zorder=-1))
    g, s = header_pos[c]
    ax.text(g, 1.06, 'Gleissberg-Cycle', transform=ax.transAxes, ha='left', va='center', fontsize=8, color='#333333')
    ax.text(s, 1.06, 'Suess-Cycle', transform=ax.transAxes, ha='left', va='center', fontsize=8, color='#333333')

handles = [Line2D([], [], color=BLACK, lw=1.5), Line2D([], [], color=RED, lw=1.5), Line2D([], [], color=ORANGE, lw=1.5)]
fig.legend(handles, ['Power', 'CI = 99%', 'CI = 90%'], loc='center', bbox_to_anchor=(0.516, 0.008), ncol=3,
           frameon=False, prop=dict(weight='bold', size=9), handlelength=3.0, handletextpad=0.3,
           columnspacing=1.0, borderpad=0, labelcolor=TXT)

fig.savefig('out.png', dpi=100)
